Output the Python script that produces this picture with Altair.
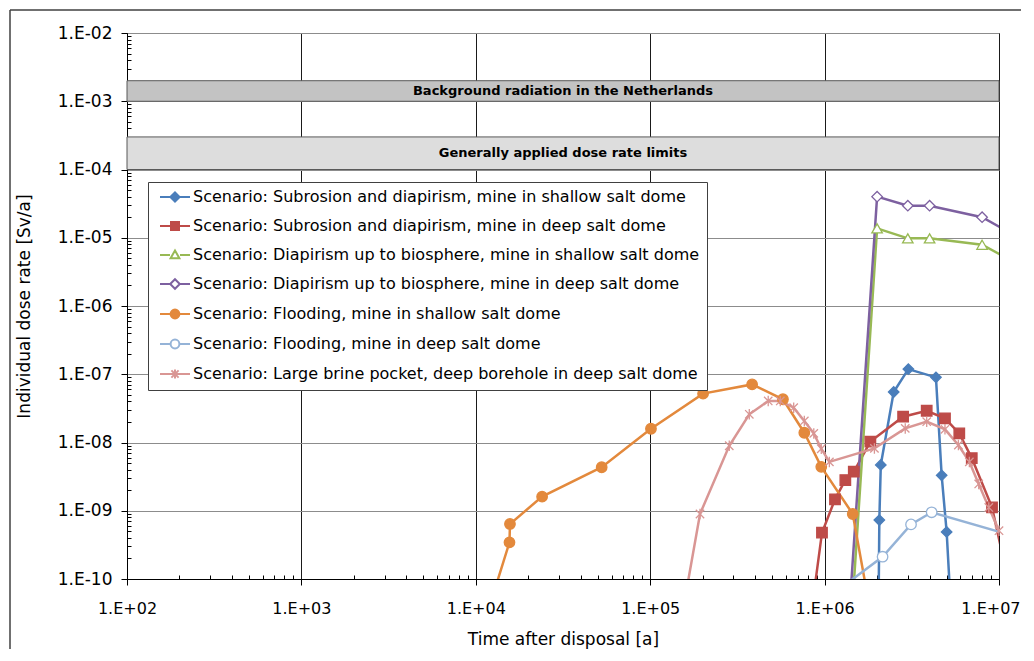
import altair as alt
import pandas as pd

# ---------------- data ----------------
series_names = [
    "Scenario: Subrosion and diapirism, mine in shallow salt dome",
    "Scenario: Subrosion and diapirism, mine in deep salt dome",
    "Scenario: Diapirism up to biosphere, mine in shallow salt dome",
    "Scenario: Diapirism up to biosphere, mine in deep salt dome",
    "Scenario: Flooding, mine in shallow salt dome",
    "Scenario: Flooding, mine in deep salt dome",
    "Scenario: Large brine pocket, deep borehole in deep salt dome",
]

sub_shallow_t = [2.03e6, 2.06e6, 2.10e6, 2.49e6, 3.02e6, 4.35e6, 4.69e6, 5.01e6, 5.45e6]
sub_shallow_d = [1e-11, 7.3e-10, 4.7e-9, 5.5e-8, 1.19e-7, 9.0e-8, 3.3e-9, 4.9e-10, 1e-11]

sub_deep_t = [8.8e5, 9.66e5, 1.147e6, 1.315e6, 1.47e6, 1.83e6, 2.82e6, 3.85e6, 4.9e6, 5.92e6, 6.98e6, 9.12e6, 1.05e7]
sub_deep_d = [8e-11, 4.77e-10, 1.47e-9, 2.82e-9, 3.73e-9, 1.03e-8, 2.39e-8, 2.92e-8, 2.26e-8, 1.36e-8, 5.9e-9, 1.12e-9, 2.2e-10]

diap_shallow_t = [1.45e6, 2.0e6, 3.0e6, 4.0e6, 8.0e6, 1.2e7]
diap_shallow_d = [4.9e-11, 1.37e-5, 9.8e-6, 9.8e-6, 7.9e-6, 4.5e-6]

diap_deep_t = [1.40e6, 2.0e6, 3.0e6, 4.0e6, 8.0e6, 1.2e7]
diap_deep_d = [4.8e-11, 4.0e-5, 2.95e-5, 2.95e-5, 2.0e-5, 1.12e-5]

flood_shallow_t = [1.2e4, 1.56e4, 1.57e4, 2.4e4, 5.27e4, 1.01e5, 2.01e5, 3.84e5, 5.77e5, 7.65e5, 9.57e5, 1.45e6, 1.8e6]
flood_shallow_d = [4.0e-11, 3.45e-10, 6.4e-10, 1.61e-9, 4.34e-9, 1.59e-8, 5.2e-8, 7.1e-8, 4.3e-8, 1.39e-8, 4.4e-9, 8.96e-10, 4.2e-11]

flood_deep_t = [1.0e6, 2.15e6, 3.13e6, 4.11e6, 1.2e7]
flood_deep_d = [4.9e-11, 2.12e-10, 6.3e-10, 9.5e-10, 4.3e-10]

brine_t = [1.6e5, 1.93e5, 2.84e5, 3.70e5, 4.75e5, 5.57e5, 6.65e5, 7.65e5, 8.67e5, 9.57e5, 1.065e6,
           1.93e6, 2.9e6, 3.85e6, 4.9e6, 5.85e6, 6.76e6, 7.65e6, 8.74e6, 1.0e7]
brine_d = [6e-11, 8.96e-10, 8.97e-9, 2.59e-8, 4.06e-8, 4.06e-8, 3.24e-8, 2.07e-8, 1.36e-8, 8.1e-9, 5.2e-9,
           8.2e-9, 1.61e-8, 2.02e-8, 1.56e-8, 9.2e-9, 5.2e-9, 2.47e-9, 1.12e-9, 5.1e-10]

band_labels = ["Background radiation in the Netherlands", "Generally applied dose rate limits"]
band_low = [1e-3, 1e-4]
band_high = [2e-3, 3e-4]

x_ticks = [1e2, 1e3, 1e4, 1e5, 1e6, 1e7]
y_ticks = [1e-10, 1e-9, 1e-8, 1e-7, 1e-6, 1e-5, 1e-4, 1e-3, 1e-2]

# ---------------- styles ----------------
line_colors = ["#4A7EBB", "#BE4B48", "#98B954", "#7D60A0", "#E3893C", "#95B3D7", "#D99694"]
fill_colors = ["#4A7EBB", "#BE4B48", "#FFFFFF", "#FFFFFF", "#E3893C", "#FFFFFF", "#D99694"]
ast = "M0,-1L0,1M-0.8,-0.8L0.8,0.8M-0.8,0.8L0.8,-0.8"
marker_shapes = ["diamond", "square", "triangle-up", "diamond", "circle", "circle", ast]

seg = "M-3.75,0L-1.25,0M1.25,0L3.75,0"
legend_shapes = [
    seg + "M-1.15,0L0,-1.15L1.15,0L0,1.15Z",
    seg + "M-1,-1L1,-1L1,1L-1,1Z",
    seg + "M-1.1,0.8L0,-1.1L1.1,0.8Z",
    seg + "M-1.2,0L0,-1.2L1.2,0L0,1.2Z",
    seg + "M-1.1,0A1.1,1.1,0,1,1,1.1,0A1.1,1.1,0,1,1,-1.1,0Z",
    seg + "M-1.1,0A1.1,1.1,0,1,1,1.1,0A1.1,1.1,0,1,1,-1.1,0Z",
    "M-3.75,0L3.75,0" + "M0,-1.1L0,1.1M-0.9,-0.9L0.9,0.9M-0.9,0.9L0.9,-0.9",
]

FONT = "DejaVu Sans"
PAD_L, PAD_T, PAD_R = 119, 25, 22

# ---------------- tables ----------------
all_t = [sub_shallow_t, sub_deep_t, diap_shallow_t, diap_deep_t, flood_shallow_t, flood_deep_t, brine_t]
all_d = [sub_shallow_d, sub_deep_d, diap_shallow_d, diap_deep_d, flood_shallow_d, flood_deep_d, brine_d]
rows = []
for k, (name, ts, ds) in enumerate(zip(series_names, all_t, all_d)):
    for i, (t, d) in enumerate(zip(ts, ds)):
        rows.append({"series": name, "t": t, "d": d, "i": i, "k": k})
df = pd.DataFrame(rows)

bands = pd.DataFrame({
    "label": band_labels, "lo": band_low, "hi": band_high,
    "x1": [x_ticks[0]] * 2, "x2": [x_ticks[-1]] * 2,
})
bands["xm"] = (bands["x1"] * bands["x2"]) ** 0.5
bands["ym"] = (bands["lo"] * bands["hi"]) ** 0.5

legend_df = pd.DataFrame({"series": series_names, "t": [10.0] * 7, "d": [1e-12] * 7})
frame_df = pd.DataFrame({"f": [0]})

y_minor = [m * 10.0 ** e for e in range(-10, -2) for m in range(2, 10)]
x_minor = [m * 10.0 ** e for e in range(2, 7) for m in range(2, 10)]

xs = alt.Scale(type="log", domain=[1e2, 1e7], nice=False)
ys = alt.Scale(type="log", domain=[1e-10, 1e-2], nice=False)

last_x = x_ticks[-1]
x_main = alt.Axis(values=x_ticks, title="Time after disposal [a]", grid=True, gridColor="#1A1A1A",
                  gridWidth=1, tickSize=6, labelPadding=15, labelFlush=False, labelFontSize=16,
                  labelAlign={"condition": {"test": f"datum.value >= {last_x}", "value": "right"},
                              "value": "center"},
                  labelOffset={"condition": {"test": f"datum.value >= {last_x}", "value": PAD_R - 1},
                               "value": 0},
                  labelExpr="'1.E+' + format(round(log(datum.value)/LN10), '02')",
                  titlePadding=15)
y_main = alt.Axis(values=y_ticks, title="Individual dose rate [Sv/a]", grid=True, gridColor="#8C8C8C",
                  gridWidth=1, tickSize=6, labelPadding=9, labelFlush=False,
                  labelExpr="'1.E-' + format(-round(log(datum.value)/LN10), '02')",
                  titlePadding=24)

x_min_axis = alt.Axis(orient="bottom", values=x_minor, labels=False, domain=False, grid=False,
                      tickSize=4, offset=-4, title=None)
y_min_axis = alt.Axis(orient="left", values=y_minor, labels=False, domain=False, grid=False,
                      tickSize=4, offset=-4, title=None)

FX = 10 - PAD_L - 8
FY = 10 - PAD_T - 8
frame_top = alt.Chart(frame_df).mark_rule(stroke="#404040", strokeWidth=1.5).encode(
    x=alt.value(FX), x2=alt.value(872 + PAD_R), y=alt.value(FY),
)
frame_left = alt.Chart(frame_df).mark_rule(stroke="#404040", strokeWidth=1.5).encode(
    x=alt.value(FX), y=alt.value(FY), y2=alt.value(660),
)

band_rect = alt.Chart(bands).mark_rect(stroke="#595959", strokeWidth=1).encode(
    x=alt.X("x1:Q", scale=xs, axis=x_main),
    x2="x2:Q",
    y=alt.Y("lo:Q", scale=ys, axis=y_main),
    y2="hi:Q",
    fill=alt.Fill("label:N", scale=alt.Scale(domain=band_labels, range=["#C3C3C3", "#DDDDDD"]), legend=None),
)

band_text = alt.Chart(bands).mark_text(font=FONT, fontSize=13, fontWeight="bold", color="black").encode(
    x=alt.X("xm:Q", scale=xs, axis=None),
    y=alt.Y("ym:Q", scale=ys, axis=None),
    text="label:N",
)

lines = alt.Chart(df).mark_line(clip=True, strokeWidth=2.5).encode(
    x=alt.X("t:Q", scale=xs, axis=x_min_axis),
    y=alt.Y("d:Q", scale=ys, axis=y_min_axis),
    stroke=alt.Stroke("series:N", scale=alt.Scale(domain=series_names, range=line_colors), legend=None),
    order="i:Q",
)

points = alt.Chart(df).transform_filter(
    "datum.d >= 1e-10 && datum.t <= 1e7 && datum.t >= 1e2"
).mark_point(filled=False, strokeWidth=1.3, opacity=1).encode(
    x=alt.X("t:Q", scale=xs, axis=None),
    y=alt.Y("d:Q", scale=ys, axis=None),
    stroke=alt.Stroke("series:N", scale=alt.Scale(domain=series_names, range=line_colors), legend=None),
    fill=alt.Fill("series:N", scale=alt.Scale(domain=series_names, range=fill_colors), legend=None),
    shape=alt.Shape("series:N", scale=alt.Scale(domain=series_names, range=marker_shapes), legend=None),
    size=alt.value(110),
)

leg = alt.Legend(title=None, orient="none", legendX=148 - PAD_L - 8, legendY=149, labelFont=FONT,
                 labelFontSize=16, labelColor="black", labelLimit=1000, fillColor="white",
                 strokeColor="#404040", padding=7, rowPadding=12, symbolStrokeWidth=2, symbolSize=64,
                 labelOffset=10, symbolOffset=12)

legend_layer = alt.Chart(legend_df).mark_point(clip=True, filled=False, opacity=1).encode(
    x=alt.X("t:Q", scale=xs, axis=None),
    y=alt.Y("d:Q", scale=ys, axis=None),
    stroke=alt.Stroke("series:N", scale=alt.Scale(domain=series_names, range=line_colors), legend=leg),
    fill=alt.Fill("series:N", scale=alt.Scale(domain=series_names, range=fill_colors), legend=leg),
    shape=alt.Shape("series:N", scale=alt.Scale(domain=series_names, range=legend_shapes), legend=leg),
)

chart = alt.layer(band_rect, band_text, lines, points, legend_layer, frame_top, frame_left).resolve_scale(
    shape="independent", fill="independent", stroke="independent"
).resolve_axis(x="independent", y="independent").properties(
    width=872, height=546,
    autosize=alt.AutoSizeParams(type="none"),
    padding={"left": PAD_L, "top": PAD_T, "right": PAD_R, "bottom": 70},
    background="white",
).configure_view(stroke="black", strokeWidth=1).configure_axis(
    labelFont=FONT, labelFontSize=17, labelColor="black", titleFont=FONT, titleFontSize=17,
    titleFontWeight="normal", titleColor="black", domainColor="black", tickColor="black",
)

chart.save("out.html", embed_options={"renderer": "svg", "actions": False})
